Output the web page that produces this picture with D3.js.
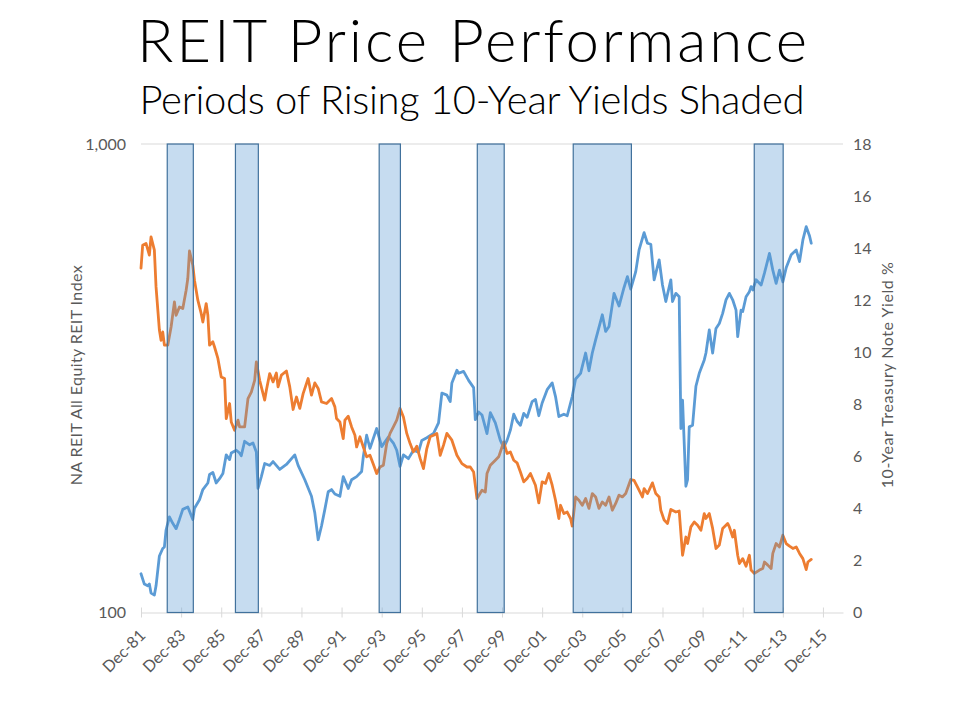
<!DOCTYPE html>
<html><head><meta charset="utf-8">
<script src="https://cdn.jsdelivr.net/npm/d3@7"></script>
<style>body{margin:0;background:#fff} svg{display:block}</style>
</head><body><svg id="c" width="960" height="720"></svg>
<script>
// ---- data (months counted from Dec-1981) ----
const tickLabels = ["Dec-81","Dec-83","Dec-85","Dec-87","Dec-89","Dec-91","Dec-93","Dec-95","Dec-97","Dec-99","Dec-01","Dec-03","Dec-05","Dec-07","Dec-09","Dec-11","Dec-13","Dec-15"];
const tickMonths = [0,24,48,72,96,120,144,168,192,216,240,264,288,312,336,360,384,408];

const reitMonth = [0,2,4,5,6,8,9,11,13,14,15,17,19,21,23,25,28,31,32,35,37,40,41,43,45,47,49,51,53,54,57,59,60,62,65,67,69,70,72,74,77,79,83,87,92,94,98,102,104,106,108,110,112,114,116,119,121,124,126,129,132,133,135,137,141,144,148,151,153,155,157,160,163,166,168,171,175,178,180,183,185,186,189,190,193,196,199,200,202,204,207,209,212,215,217,219,221,223,225,227,229,231,234,236,238,240,243,246,248,250,253,255,258,260,263,266,268,270,272,276,278,280,283,286,289,291,293,296,298,301,303,305,307,310,312,314,317,318,320,322,323,324,326,327,328,330,332,334,337,338,340,342,344,346,348,350,352,354,356,357,359,360,362,364,365,366,368,371,373,376,378,380,382,384,386,389,392,394,396,398,400,401];
const reitValue = [121,115,114,115,110,109,114,132,137,138,150,160,155,151,158,166,168,158,167,174,183,189,197,199,189,193,198,217,212,219,222,219,216,232,228,230,220,184,195,208,206,210,202,207,217,206,192,177,163,143,153,166,181,183,179,177,195,184,192,195,200,215,239,224,247,226,237,230,222,205,217,213,222,220,233,236,241,254,294,291,282,309,329,324,327,313,302,258,268,264,241,267,254,233,225,233,245,265,256,251,266,261,282,285,263,280,299,309,289,262,265,263,289,315,324,358,328,358,382,432,398,408,480,451,494,521,490,534,594,647,614,611,513,566,500,461,513,461,480,472,247,284,186,192,249,251,304,324,346,358,401,358,404,414,435,465,480,465,442,388,442,439,472,484,496,488,513,500,530,584,538,504,538,508,544,580,594,561,624,666,636,614];

const yieldMonth = [0,1,3,5,6,8,9,11,12,13,14,16,18,20,21,23,25,27,28,29,31,32,34,36,37,39,40,41,43,44,46,48,50,51,53,54,56,58,59,62,64,66,68,69,71,74,75,77,79,81,82,84,87,89,91,93,95,97,100,102,104,106,108,111,114,116,117,119,121,122,124,126,128,129,131,133,135,137,139,141,143,145,147,149,151,153,155,157,159,161,163,165,167,169,171,173,175,177,179,181,183,186,189,192,195,197,199,201,204,206,207,209,212,214,216,217,219,221,223,225,227,229,231,233,236,238,240,242,244,246,248,250,251,253,255,257,258,260,262,264,266,268,270,272,274,276,278,280,282,284,286,288,290,293,295,297,300,301,303,304,306,308,310,311,313,315,317,320,322,324,326,327,329,331,333,335,337,338,340,342,344,346,348,351,352,354,355,357,358,360,362,364,365,367,370,372,373,375,377,378,380,382,384,386,388,390,392,394,396,398,399,401];
const yieldValue = [13.23,14.11,14.18,13.73,14.43,13.92,12.51,10.85,10.46,10.78,10.27,10.27,10.97,11.93,11.42,11.74,11.68,12.38,12.83,13.89,13.34,12.77,12.00,11.49,11.16,11.87,11.42,10.27,10.40,10.20,9.76,9.05,8.99,7.45,8.03,7.32,7.00,7.39,7.13,7.13,8.22,8.47,8.92,9.63,8.92,8.16,8.54,9.18,8.86,9.20,8.67,9.12,9.28,8.67,7.80,8.28,7.84,8.41,8.99,8.35,8.82,8.61,8.09,8.03,8.22,7.90,7.45,7.32,6.68,7.39,7.54,7.13,6.81,6.36,6.75,6.36,5.98,6.04,5.70,5.34,5.59,5.66,6.49,6.88,7.13,7.39,7.84,7.51,6.88,6.49,6.17,6.39,5.92,5.53,6.30,6.75,6.81,6.88,6.04,6.43,6.88,6.62,6.04,5.72,5.59,5.59,5.40,4.38,4.70,4.63,5.34,5.66,5.85,5.98,6.36,6.55,6.11,6.17,5.85,5.75,5.40,5.02,5.15,5.34,4.89,4.21,5.02,4.96,5.34,4.89,4.31,3.61,4.12,3.80,3.86,3.61,3.32,4.44,4.31,4.12,4.38,4.00,4.57,4.44,4.00,4.25,4.12,4.44,3.93,4.19,4.51,4.44,4.57,5.11,5.08,4.83,4.44,4.76,4.57,4.70,4.98,4.57,4.44,3.93,3.55,3.42,3.96,3.86,3.90,2.20,2.90,2.65,3.29,3.48,3.35,3.16,3.80,3.61,3.80,3.23,2.46,2.59,3.23,3.42,3.29,2.90,3.16,2.20,1.88,2.07,1.78,2.20,1.63,1.50,1.63,1.69,1.94,1.82,1.69,2.27,2.65,2.52,2.97,2.65,2.55,2.46,2.52,2.27,2.07,1.65,1.94,2.04];

// rising-yield periods (months from Dec-1981)
const shadeStart = [15.7, 56.5, 142.5, 201.2, 258.6, 366.9];
const shadeEnd   = [31.3, 70.2, 155.2, 217.3, 293.4, 384.2];

const leftTicks = [100, 1000];
const rightTicks = [0,2,4,6,8,10,12,14,16,18];

// ---- layout ----
const L = 141, R = 843, T = 144, B = 612.5;
const svg = d3.select("#c");
const FONT = "Lato, 'Open Sans', sans-serif";
const GREY = "#595959";

const x = d3.scaleLinear().domain([0, 420]).range([L, R]);
const yL = d3.scaleLog().domain([100, 1000]).range([B, T]);
const yR = d3.scaleLinear().domain([0, 18]).range([B, T]);

// titles
svg.append("text").attr("x", 472).attr("y", 62).attr("text-anchor", "middle")
  .attr("font-family", FONT).attr("font-weight", 300).attr("font-size", 60).attr("fill", "#000")
  .attr("textLength", 670).attr("lengthAdjust", "spacing")
  .text("REIT Price Performance");
svg.append("text").attr("x", 472).attr("y", 114).attr("text-anchor", "middle")
  .attr("font-family", FONT).attr("font-weight", 300).attr("font-size", 40).attr("fill", "#000")
  .attr("textLength", 665).attr("lengthAdjust", "spacing")
  .text("Periods of Rising 10-Year Yields Shaded");

// gridline at top
svg.append("line").attr("x1", L).attr("x2", R).attr("y1", yL(1000)).attr("y2", yL(1000))
  .attr("stroke", "#D9D9D9").attr("stroke-width", 1);

// x axis
const xAxis = svg.append("g").attr("transform", `translate(0,${B})`)
  .call(d3.axisBottom(x).tickValues(tickMonths).tickFormat((d, i) => tickLabels[i])
    .tickSizeInner(5).tickSizeOuter(0));
xAxis.select(".domain").attr("stroke", "#D9D9D9");
xAxis.selectAll(".tick line").attr("stroke", "#D9D9D9").attr("y1", -5).attr("y2", 5);
xAxis.selectAll(".tick text")
  .attr("font-family", FONT).attr("font-size", 16).attr("fill", GREY)
  .attr("text-anchor", "end").attr("x", 0).attr("y", 0).attr("dy", "0.35em")
  .attr("transform", "translate(1,20) rotate(-45)");

// left axis
const lAxis = svg.append("g").attr("transform", `translate(${L},0)`)
  .call(d3.axisLeft(yL).tickValues(leftTicks).tickFormat(d3.format(",")).tickSize(0).tickPadding(15));
lAxis.select(".domain").remove();
lAxis.selectAll("text").attr("font-family", FONT).attr("font-size", 16).attr("fill", GREY);

// right axis
const rAxis = svg.append("g").attr("transform", `translate(${R},0)`)
  .call(d3.axisRight(yR).tickValues(rightTicks).tickSize(0).tickPadding(10));
rAxis.select(".domain").remove();
rAxis.selectAll("text").attr("font-family", FONT).attr("font-size", 16).attr("fill", GREY);

// axis titles
svg.append("text").attr("transform", `translate(82,${(T + B) / 2 - 3}) rotate(-90)`)
  .attr("text-anchor", "middle").attr("font-family", FONT).attr("font-size", 16).attr("fill", GREY)
  .attr("textLength", 220).attr("lengthAdjust", "spacing")
  .text("NA REIT All Equity REIT Index");
svg.append("text").attr("transform", `translate(893,${(T + B) / 2 - 3}) rotate(-90)`)
  .attr("text-anchor", "middle").attr("font-family", FONT).attr("font-size", 16).attr("fill", GREY)
  .attr("textLength", 226).attr("lengthAdjust", "spacing")
  .text("10-Year Treasury Note Yield %");

// lines
const reit = reitMonth.map((m, i) => [m, reitValue[i]]);
const yld = yieldMonth.map((m, i) => [m, yieldValue[i]]);
svg.append("path").datum(reit)
  .attr("d", d3.line().x(d => x(d[0])).y(d => yL(d[1])))
  .attr("fill", "none").attr("stroke", "#5B9BD5").attr("stroke-width", 2.8)
  .attr("stroke-linejoin", "round").attr("stroke-linecap", "round");
svg.append("path").datum(yld)
  .attr("d", d3.line().x(d => x(d[0])).y(d => yR(d[1])))
  .attr("fill", "none").attr("stroke", "#ED7D31").attr("stroke-width", 2.8)
  .attr("stroke-linejoin", "round").attr("stroke-linecap", "round");

// shaded periods (on top, translucent)
svg.append("g").selectAll("rect").data(shadeStart).join("rect")
  .attr("x", (d) => x(d))
  .attr("width", (d, i) => x(shadeEnd[i]) - x(d))
  .attr("y", yR(18)).attr("height", yR(0) - yR(18))
  .attr("fill", "#5B9BD5").attr("fill-opacity", 0.35)
  .attr("stroke", "#41719C").attr("stroke-width", 1.2);
</script></body></html>
